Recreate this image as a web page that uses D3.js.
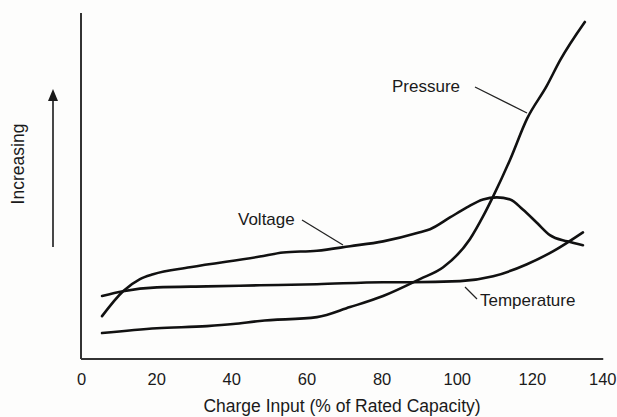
<!DOCTYPE html>
<html>
<head>
<meta charset="utf-8">
<script src="https://cdn.jsdelivr.net/npm/d3@7"></script>
<style>
  html, body { margin: 0; padding: 0; background: #fdfdfc; }
  svg { display: block; }
  text { font-family: "Liberation Sans", Arial, Helvetica, sans-serif; fill: #1a1a1a; }
</style>
</head>
<body>
<script>
// Charge input (% of rated capacity) vs relative level (arbitrary 0-100 scale)
const xTicks = [0, 20, 40, 60, 80, 100, 120, 140];

const voltageX = [5.6, 11.2, 15.7, 19.2, 29, 47.6, 53.8, 62.8, 71.6, 80.4, 90.2, 92.9, 98.2, 102.7, 107, 110.7, 114.2, 117.6, 121.4, 124.8, 129.4, 133.6];
const voltageY = [12.4, 19.6, 23.1, 24.5, 26.5, 29.6, 30.8, 31.3, 32.6, 34.0, 36.6, 37.5, 40.9, 43.8, 46.1, 46.7, 46.1, 43.2, 39.3, 35.8, 34.0, 32.9];

const temperatureX = [5.6, 11.2, 20.2, 33.5, 47.6, 62.8, 80.4, 87.6, 100.9, 109.7, 118.7, 125.6, 133.6];
const temperatureY = [18.2, 19.6, 20.7, 21.0, 21.3, 21.6, 22.2, 22.2, 22.5, 23.9, 27.4, 31.1, 36.6];

const pressureX = [5.6, 20.2, 33.5, 40.5, 47.6, 62.8, 71.6, 80.4, 90.2, 96.4, 103.5, 107, 109.7, 114.2, 118.7, 124, 127.5, 134.1];
const pressureY = [7.5, 8.9, 9.5, 10.1, 11.0, 12.1, 15.0, 18.2, 23.1, 26.5, 34.6, 41.2, 47.0, 57.6, 69.4, 79.0, 86.3, 97.4];

const seriesNames = ["Voltage", "Temperature", "Pressure"];
const xTitle = "Charge Input (% of Rated Capacity)";
const yTitle = "Increasing";

const W = 617, H = 417;
const svg = d3.select("body").append("svg").attr("width", W).attr("height", H);

const x = d3.scaleLinear().domain([0, 140]).range([81, 607]);
const y = d3.scaleLinear().domain([0, 100]).range([359, 13]);

// axes lines
svg.append("line").attr("x1", x(0)).attr("x2", x(0)).attr("y1", y(100)).attr("y2", y(0))
  .attr("stroke", "#333").attr("stroke-width", 2);
svg.append("line").attr("x1", x(0)).attr("x2", x(139)).attr("y1", y(0)).attr("y2", y(0))
  .attr("stroke", "#333").attr("stroke-width", 2);

// x tick labels (no tick marks)
const xAxis = d3.axisBottom(x).tickValues(xTicks).tickSize(0).tickPadding(14);
const gx = svg.append("g").attr("transform", `translate(0,${y(0)})`).call(xAxis);
gx.select(".domain").remove();
gx.selectAll("text").style("font-size", "16.5px").style("font-family", '"Liberation Sans", Arial, sans-serif').attr("fill", "#1a1a1a")
  .attr("text-anchor", d => d === 140 ? "end" : "middle")
  .attr("dx", d => d === 140 ? 9 : 0);

svg.append("text").attr("x", 342).attr("y", 412).attr("text-anchor", "middle")
  .style("font-size", "17.5px").text(xTitle);

// y title rotated
svg.append("text").attr("transform", "translate(24,164) rotate(-90)").attr("text-anchor", "middle")
  .style("font-size", "17.5px").text(yTitle);

// arrow
svg.append("line").attr("x1", 53).attr("x2", 53).attr("y1", 247).attr("y2", 98)
  .attr("stroke", "#1a1a1a").attr("stroke-width", 1.6);
svg.append("path").attr("d", "M53,89 L48,101 L58,101 Z").attr("fill", "#1a1a1a");

// curves
const line = d3.line().x(d => x(d[0])).y(d => y(d[1])).curve(d3.curveMonotoneX);
const series = [
  d3.zip(voltageX, voltageY),
  d3.zip(temperatureX, temperatureY),
  d3.zip(pressureX, pressureY)
];
svg.selectAll("path.series").data(series).join("path").attr("class", "series")
  .attr("d", line).attr("fill", "none").attr("stroke", "#111").attr("stroke-width", 2.6)
  .attr("stroke-linecap", "round").attr("stroke-linejoin", "round");

// labels with leader lines
const labels = [
  { name: seriesNames[0], tx: 238, ty: 225, lx1: 302, ly1: 220, lx2: 343, ly2: 245 },
  { name: seriesNames[1], tx: 480, ty: 306, lx1: 465, ly1: 287, lx2: 477, ly2: 299 },
  { name: seriesNames[2], tx: 392, ty: 92, lx1: 475, ly1: 87, lx2: 527, ly2: 113 }
];
labels.forEach(l => {
  svg.append("text").attr("x", l.tx).attr("y", l.ty).style("font-size", "17px").text(l.name);
  svg.append("line").attr("x1", l.lx1).attr("y1", l.ly1).attr("x2", l.lx2).attr("y2", l.ly2)
    .attr("stroke", "#222").attr("stroke-width", 1.3);
});
</script>
</body>
</html>
